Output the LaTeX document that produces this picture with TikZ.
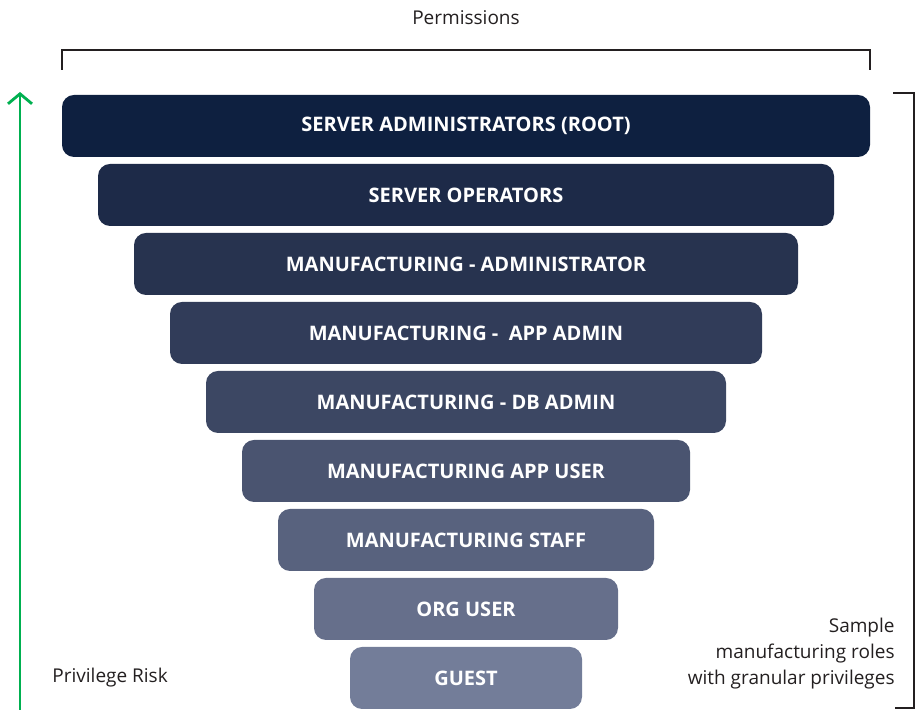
\documentclass[tikz,border=0pt]{standalone}
\usepackage{fontspec}
\setmainfont{Open Sans}
\usepackage{tikz}
\usetikzlibrary{positioning, arrows.meta}

% cores das faixas (de cima para baixo)
\definecolor{faixaA}{HTML}{0E2040}
\definecolor{faixaB}{HTML}{1D2A48}
\definecolor{faixaC}{HTML}{27334F}
\definecolor{faixaD}{HTML}{313C59}
\definecolor{faixaE}{HTML}{3C4763}
\definecolor{faixaF}{HTML}{4A5470}
\definecolor{faixaG}{HTML}{58627E}
\definecolor{faixaH}{HTML}{666F8B}
\definecolor{faixaI}{HTML}{737D99}
\definecolor{verdeRisco}{HTML}{00B050}
\definecolor{texto}{HTML}{231F20}

\tikzset{
  faixa/.style={rounded corners=6pt, minimum height=31pt, inner sep=0pt,
    text=white, font=\fontsize{10}{12}\selectfont\bfseries},
  rotulo/.style={text=texto, font=\fontsize{9.5}{13}\selectfont, inner sep=0pt},
  chave/.style={line width=1pt, texto}
}

\begin{document}
\begin{tikzpicture}[x=0.5pt, y=-0.5pt]

\useasboundingbox (0,0) rectangle (918,710);

% Faixas de papeis
\node[faixa, fill=faixaA, minimum width=404pt] (root) at (466,126) {SERVER ADMINISTRATORS (ROOT)};
\node[faixa, fill=faixaB, minimum width=368pt] (oper) at (466,195) {SERVER OPERATORS};
\node[faixa, fill=faixaC, minimum width=332pt] (mfgadm) at (466,264) {MANUFACTURING - ADMINISTRATOR};
\node[faixa, fill=faixaD, minimum width=296pt] (appadm) at (466,333) {MANUFACTURING -\ \ APP ADMIN};
\node[faixa, fill=faixaE, minimum width=260pt] (dbadm) at (466,402) {MANUFACTURING - DB ADMIN};
\node[faixa, fill=faixaF, minimum width=224pt] (appuser) at (466,471) {MANUFACTURING APP USER};
\node[faixa, fill=faixaG, minimum width=188pt] (staff) at (466,540) {MANUFACTURING STAFF};
\node[faixa, fill=faixaH, minimum width=152pt] (orguser) at (466,609) {ORG USER};
\node[faixa, fill=faixaI, minimum width=116pt] (guest) at (466,678) {GUEST};

% Chave de permissoes
\node[rotulo] (perm) at (466,18) {Permissions};
\coordinate (pA) at (62,70);
\coordinate (pB) at (62,50);
\coordinate (pC) at (870,50);
\coordinate (pD) at (870,70);
\draw[chave] (pA) -- (pB) -- (pC) -- (pD);

% Chave lateral direita
\coordinate (dA) at (893,93);
\coordinate (dB) at (914,93);
\coordinate (dC) at (914,708);
\coordinate (dD) at (895,708);
\draw[chave] (dA) -- (dB) -- (dC) -- (dD);
\node[rotulo, align=right, anchor=east] (amostra) at (895,654) {Sample\\manufacturing roles\\with granular privileges};

% Seta de risco
\coordinate (rBase) at (20,712);
\coordinate (rTopo) at (20,92);
\draw[line width=1.4pt, verdeRisco, -{Straight Barb[length=5pt, width=12pt]}] (rBase) -- (rTopo);
\node[rotulo, anchor=west] (risco) at (52,678) {Privilege Risk};

\end{tikzpicture}
\end{document}
